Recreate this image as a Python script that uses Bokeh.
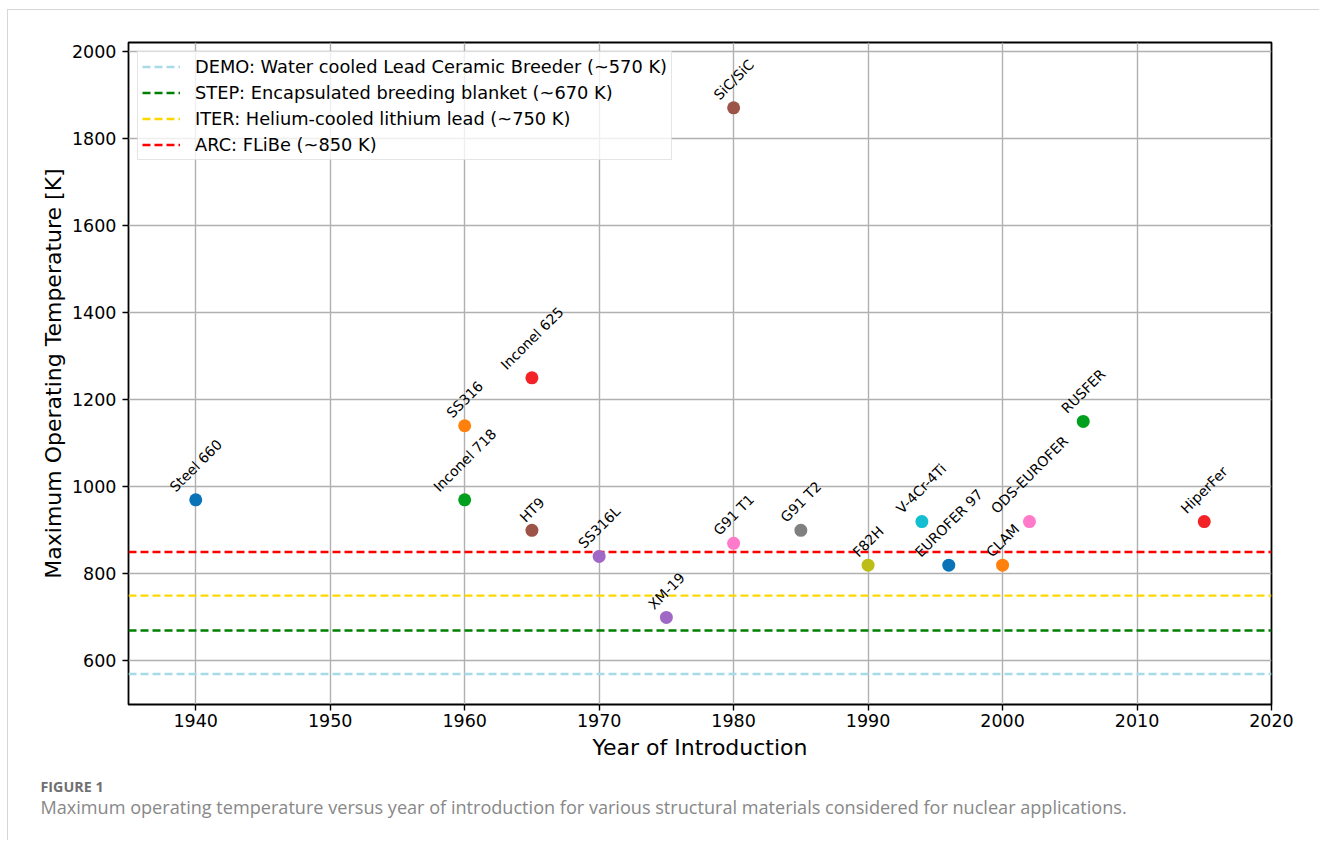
import math
from bokeh.plotting import figure
from bokeh.layouts import column
from bokeh.models import Range1d, FixedTicker, Legend, LegendItem, Label, ColumnDataSource
from bokeh.core.properties import value
from bokeh.embed import file_html
from bokeh.resources import INLINE

# ---- data ----
materials = ["Steel 660", "SS316", "Inconel 718", "Inconel 625", "HT9", "SS316L",
             "XM-19", "SiC/SiC", "G91 T1", "G91 T2", "F82H", "V-4Cr-4Ti",
             "EUROFER 97", "CLAM", "ODS-EUROFER", "RUSFER", "HiperFer"]
years = [1940, 1960, 1960, 1965, 1965, 1970, 1975, 1980, 1980, 1985, 1990, 1994,
         1996, 2000, 2002, 2006, 2015]
temps = [970, 1140, 970, 1250, 900, 840, 700, 1870, 870, 900, 820, 920,
         820, 820, 920, 1150, 920]
colors = ["#0a72b6", "#ff800c", "#00a01e", "#f22227", "#9c5348", "#a068c6",
          "#a068c6", "#9c5348", "#ff7ac8", "#808080", "#bcbd17", "#12bed0",
          "#0a72b6", "#ff800c", "#ff7ac8", "#00a01e", "#f22227"]

blanket_labels = ["DEMO: Water cooled Lead Ceramic Breeder (~570 K)",
                  "STEP: Encapsulated breeding blanket (~670 K)",
                  "ITER: Helium-cooled lithium lead (~750 K)",
                  "ARC: FLiBe (~850 K)"]
blanket_temps = [570, 670, 750, 850]
blanket_colors = ["#a8dbe8", "#008000", "#ffd700", "#ff0000"]

x_ticks = [1940, 1950, 1960, 1970, 1980, 1990, 2000, 2010, 2020]
y_ticks = [600, 800, 1000, 1200, 1400, 1600, 1800, 2000]
x_lim = (1935, 2020)
y_lim = (500, 2020)

x_label = "Year of Introduction"
y_label = "Maximum Operating Temperature [K]"
fig_tag = "FIGURE 1"
caption = ("Maximum operating temperature versus year of introduction for various "
           "structural materials considered for nuclear applications.")

# ---- text-width helper (DejaVu Sans advance widths, em units) ----
DJV = {' ': 0.318, '-': 0.361, '/': 0.337, 'A': 0.684, 'C': 0.698, 'D': 0.770,
       'E': 0.632, 'F': 0.575, 'G': 0.775, 'H': 0.752, 'I': 0.295, 'L': 0.557,
       'M': 0.863, 'O': 0.787, 'R': 0.695, 'S': 0.635, 'T': 0.611, 'U': 0.732,
       'V': 0.684, 'X': 0.685, 'K': 0.656, 'e': 0.615, 'l': 0.278, 'n': 0.634,
       'c': 0.550, 'o': 0.612, 'i': 0.278, 'p': 0.635, 'r': 0.411, 't': 0.392}
for d in "0123456789":
    DJV[d] = 0.636

LBL_SIZE = 14.0
H_BOX = 1.164 * LBL_SIZE


def text_w(s):
    return sum(DJV.get(c, 0.6) for c in s) * LBL_SIZE


xoff = [-(text_w(m) - H_BOX) / (2 * math.sqrt(2)) for m in materials]

src = ColumnDataSource(dict(year=years, temp=temps, name=materials, color=colors, xoff=xoff))

FONT = "DejaVu Sans"
W = 1311

p = figure(width=W, height=760, output_backend="svg", toolbar_location=None,
           x_range=Range1d(*x_lim), y_range=Range1d(*y_lim),
           min_border_left=120, min_border_right=48, min_border_top=32, min_border_bottom=66)

p.outline_line_color = "black"
p.outline_line_width = 1.8
p.background_fill_color = "white"
p.border_fill_color = "white"

for ax, ticks in ((p.xaxis, x_ticks), (p.yaxis, y_ticks)):
    ax.ticker = FixedTicker(ticks=ticks)
    ax.axis_line_color = None
    ax.major_tick_line_color = "black"
    ax.major_tick_line_width = 1.4
    ax.major_tick_out = 6
    ax.major_tick_in = 0
    ax.minor_tick_line_color = None
    ax.major_label_text_font = FONT
    ax.major_label_text_font_size = "17.5px"
    ax.major_label_text_color = "black"
    ax.axis_label_text_font = FONT
    ax.axis_label_text_font_size = "22px"
    ax.axis_label_text_font_style = "normal"
    ax.axis_label_text_color = "black"

p.xaxis.axis_label = x_label
p.yaxis.axis_label = y_label
p.xaxis.major_label_standoff = 3
p.yaxis.major_label_standoff = 6
p.xaxis.axis_label_standoff = 5
p.yaxis.axis_label_standoff = 3

p.grid.grid_line_color = "#b0b0b0"
p.grid.grid_line_width = 1.4

# blanket reference lines
items = []
for lab, t, c in zip(blanket_labels, blanket_temps, blanket_colors):
    r = p.line(x=[x_lim[0], x_lim[1]], y=[t, t], line_color=c, line_width=2.4, line_dash="8 4")
    items.append(LegendItem(label=lab, renderers=[r]))

p.scatter(x="year", y="temp", source=src, size=13, fill_color="color", line_color=None)
p.text(x="year", y="temp", text="name", source=src, angle=math.pi / 4,
       text_align="left", text_baseline="bottom", x_offset="xoff", y_offset=-5,
       text_font=value(FONT), text_font_size="14px", text_color="black")

legend = Legend(items=items, location="top_left", margin=9, padding=4, spacing=5,
                glyph_width=38, glyph_height=21, label_height=21, label_standoff=15,
                label_text_font=FONT, label_text_font_size="17.8px", label_text_color="black",
                background_fill_color="white", background_fill_alpha=0.8,
                border_line_color="#cccccc", border_line_width=1.2)
p.add_layout(legend)

# ---- caption strip ----
CAP_H = 70
cap = figure(width=W, height=CAP_H, output_backend="svg", toolbar_location=None,
             x_range=Range1d(0, W), y_range=Range1d(CAP_H, 0),
             min_border=0, x_axis_type=None, y_axis_type=None)
cap.outline_line_color = None
cap.grid.visible = False
cap.background_fill_color = "white"
cap.border_fill_color = "white"
for fig in (p, cap):
    if "frame_align" in fig.properties():
        fig.frame_align = False
cap.add_layout(Label(x=32, y=16, text=fig_tag, text_font="Open Sans", text_font_size="14.3px",
                     text_font_style="bold", text_color="#707070", text_baseline="alphabetic"))
cap.add_layout(Label(x=32, y=36.5, text=caption, text_font="Open Sans", text_font_size="18.1px",
                     text_color="#888888", text_baseline="alphabetic"))

layout = column(p, cap, spacing=0,
                styles={"margin-left": "7px", "margin-top": "9px",
                        "border-left": "1px solid #d6d6d6", "border-top": "1px solid #d6d6d6"})

open("out.html", "w").write(file_html(layout, INLINE))
